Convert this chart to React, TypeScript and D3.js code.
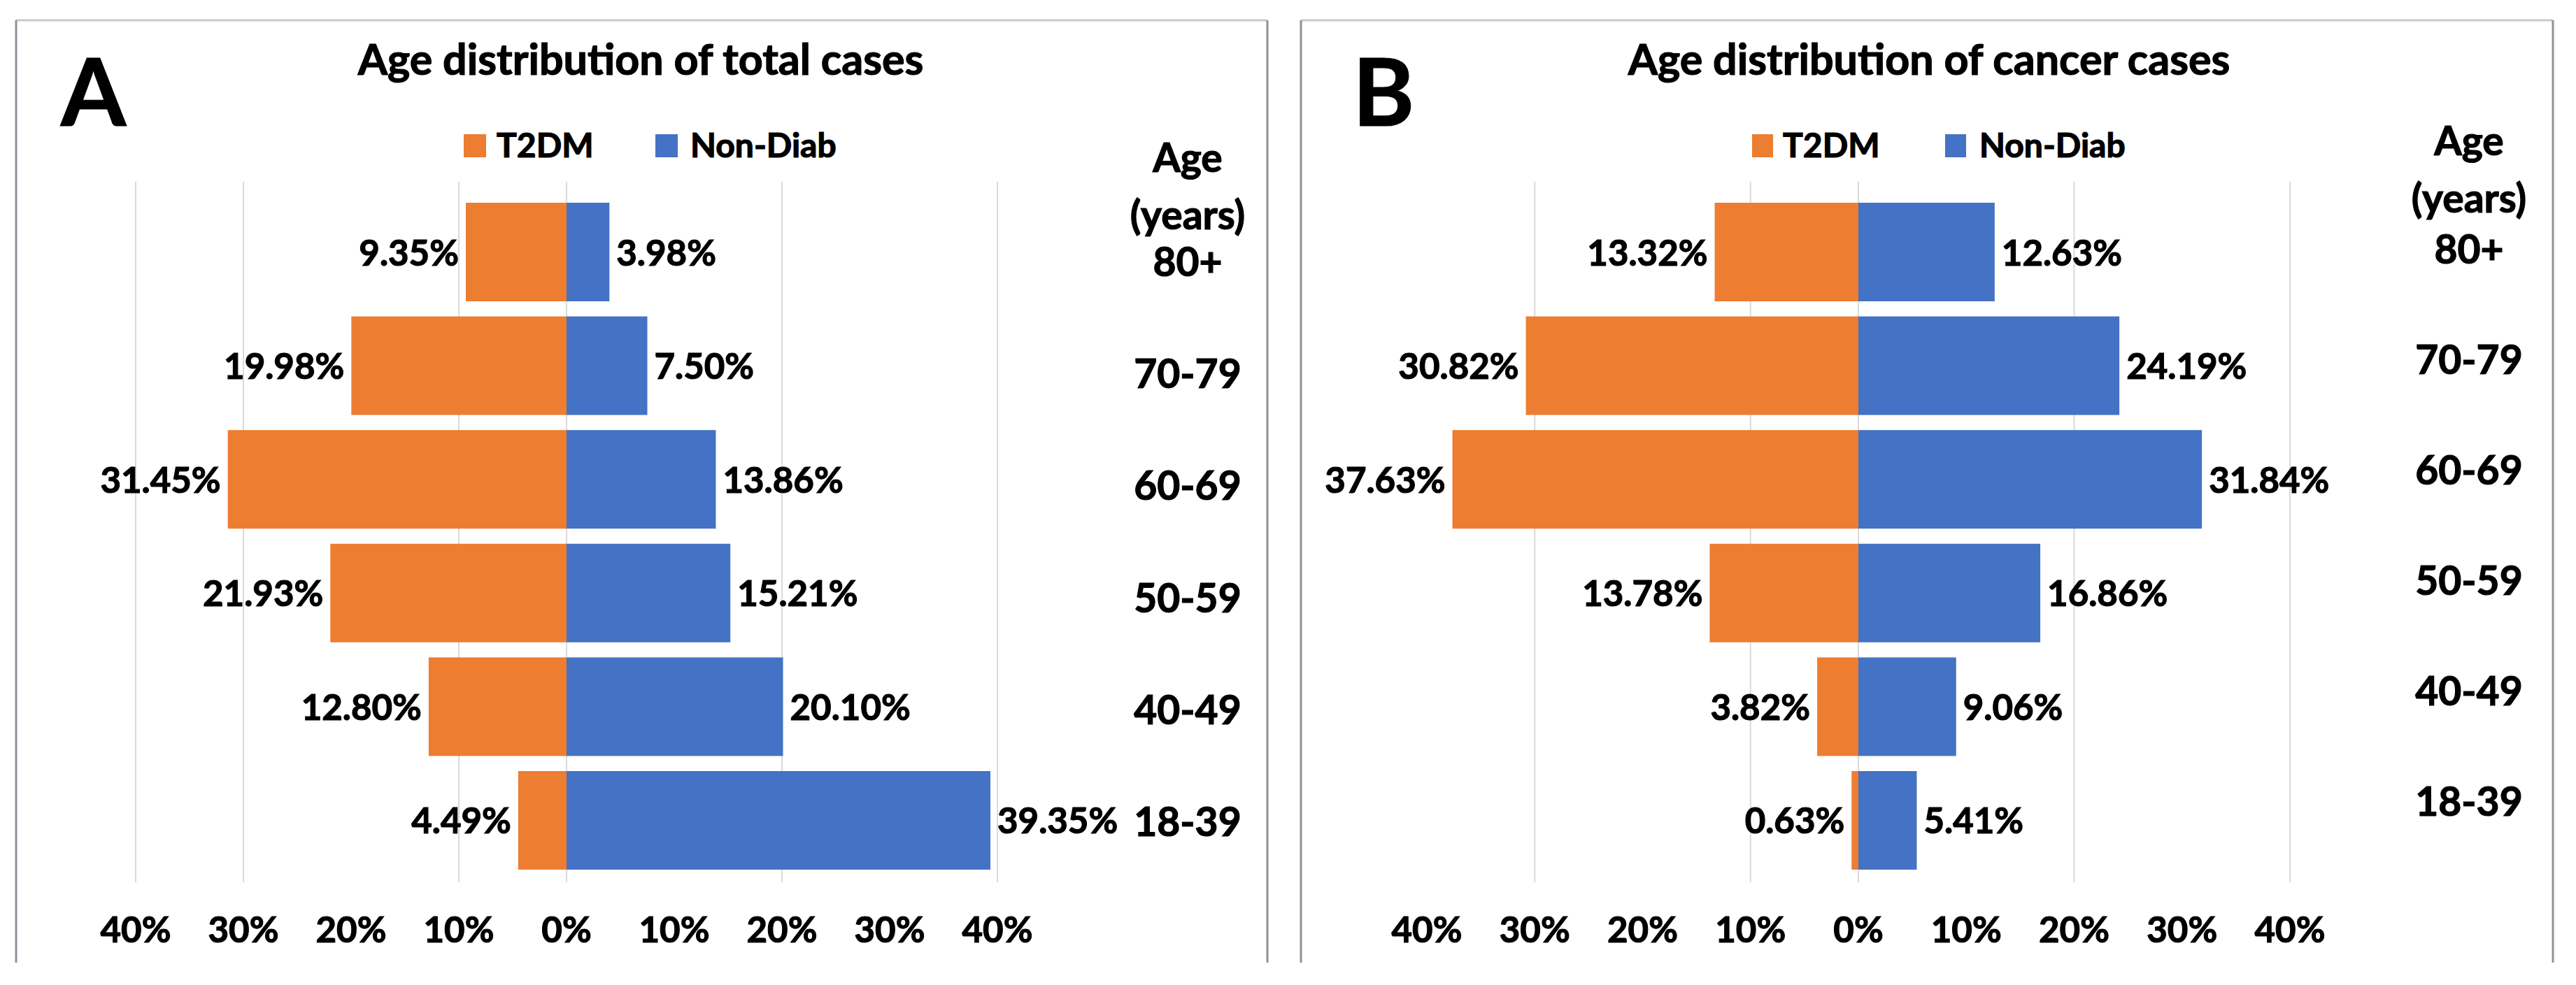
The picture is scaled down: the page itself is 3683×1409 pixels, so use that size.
import React from "react";
import * as d3 from "d3";

// Age groups, top to bottom
const ageGroups = ["80+", "70-79", "60-69", "50-59", "40-49", "18-39"];

// Panel A: total cases (%)
const totalT2DM = [9.35, 19.98, 31.45, 21.93, 12.8, 4.49];
const totalNonDiab = [3.98, 7.5, 13.86, 15.21, 20.1, 39.35];

// Panel B: cancer cases (%)
const cancerT2DM = [13.32, 30.82, 37.63, 13.78, 3.82, 0.63];
const cancerNonDiab = [12.63, 24.19, 31.84, 16.86, 9.06, 5.41];

const xTicks = [-40, -30, -20, -10, 0, 10, 20, 30, 40];
const seriesNames = ["T2DM", "Non-Diab"];
const seriesColors = ["#ED7D31", "#4472C4"];

const FONT = "Lato, 'Open Sans', sans-serif";

interface PanelLayout {
    letter: string;
    title: string;
    left: number[];
    right: number[];
    frame: [number, number, number, number];
    letterX: number;
    titleX: number;
    legend: { sq1: number; t1: number; sq2: number; t2: number; size: number };
    xRange: [number, number];
    grid: number[];
    labelX: number;
    labelRange: [number, number];
    ageY: number;
    yearsY: number;
}

const panels: PanelLayout[] = [
    {
        letter: "A",
        title: "Age distribution of total cases",
        left: totalT2DM,
        right: totalNonDiab,
        frame: [23, 1812, 29, 1377],
        letterX: 87,
        titleX: 916,
        legend: { sq1: 663, t1: 710, sq2: 937, t2: 987, size: 32 },
        xRange: [194, 1426],
        grid: [-40, -30, -10, 0, 20, 40],
        labelX: 1698,
        labelRange: [375, 1176],
        ageY: 246,
        yearsY: 328,
    },
    {
        letter: "B",
        title: "Age distribution of cancer cases",
        left: cancerT2DM,
        right: cancerNonDiab,
        frame: [1860, 3650, 29, 1377],
        letterX: 1934,
        titleX: 2758,
        legend: { sq1: 2505, t1: 2549, sq2: 2781, t2: 2830, size: 30 },
        xRange: [2040, 3274],
        grid: [-30, -10, 0, 20, 40],
        labelX: 3530,
        labelRange: [357, 1147],
        ageY: 222,
        yearsY: 304,
    },
];

function Panel({ p }: { p: PanelLayout }) {
    const x = d3.scaleLinear().domain([-40, 40]).range(p.xRange);
    const y = d3.scaleBand<string>()
        .domain(ageGroups)
        .range([268.4, 1265.6])
        .paddingInner(0.133)
        .paddingOuter(0.133);
    const yLabel = d3.scalePoint<string>().domain(ageGroups).range(p.labelRange);
    const [fl, fr, ft, fb] = p.frame;
    const bh = y.bandwidth();

    return (
        <g fontFamily={FONT} fontWeight={700} fill="#000">
            {/* frame */}
            <line x1={fl} x2={fr} y1={ft} y2={ft} stroke="#c9c9c9" strokeWidth={3} />
            <line x1={fl} x2={fl} y1={ft} y2={fb} stroke="#8b929a" strokeWidth={3} />
            <line x1={fr} x2={fr} y1={ft} y2={fb} stroke="#8b929a" strokeWidth={3} />

            {/* gridlines */}
            {p.grid.map(t => (
                <line key={t} x1={x(t)} x2={x(t)} y1={260} y2={1262} stroke="#dadada" strokeWidth={2} />
            ))}

            {/* bars */}
            {ageGroups.map((g, i) => {
                const y0 = y(g)!;
                const lv = p.left[i];
                const rv = p.right[i];
                return (
                    <g key={g}>
                        <rect x={x(-lv)} y={y0} width={x(0) - x(-lv)} height={bh} fill={seriesColors[0]} />
                        <rect x={x(0)} y={y0} width={x(rv) - x(0)} height={bh} fill={seriesColors[1]} />
                    </g>
                );
            })}

            <g stroke="#000" strokeWidth={1.2}>
                <text x={p.letterX} y={180} fontSize={134}>{p.letter}</text>
                <text x={p.titleX} y={107} fontSize={61} textAnchor="middle">{p.title}</text>

                {/* legend */}
                <rect x={p.legend.sq1} y={192} width={p.legend.size} height={33} fill={seriesColors[0]} stroke="none" />
                <text x={p.legend.t1} y={225} fontSize={48}>{seriesNames[0]}</text>
                <rect x={p.legend.sq2} y={192} width={p.legend.size} height={33} fill={seriesColors[1]} stroke="none" />
                <text x={p.legend.t2} y={225} fontSize={48}>{seriesNames[1]}</text>

                {/* value labels */}
                {ageGroups.map((g, i) => {
                    const cy = y(g)! + bh / 2;
                    const lv = p.left[i];
                    const rv = p.right[i];
                    return (
                        <g key={g}>
                            <text x={x(-lv) - 10} y={cy + 19} fontSize={51} textAnchor="end">
                                {lv.toFixed(2)}%
                            </text>
                            <text x={x(rv) + 10} y={cy + 19} fontSize={51}>
                                {rv.toFixed(2)}%
                            </text>
                        </g>
                    );
                })}

                {/* age labels */}
                <text x={p.labelX} y={p.ageY} fontSize={57} textAnchor="middle">Age</text>
                <text x={p.labelX} y={p.yearsY} fontSize={57} textAnchor="middle">(years)</text>
                {ageGroups.map(g => (
                    <text key={g} x={p.labelX} y={yLabel(g)! + 20} fontSize={57} textAnchor="middle">{g}</text>
                ))}

                {/* x tick labels */}
                {xTicks.map(t => (
                    <text key={t} x={x(t)} y={1348} fontSize={51} textAnchor="middle">
                        {Math.abs(t)}%
                    </text>
                ))}
            </g>
        </g>
    );
}

export default function App() {
    return (
        <svg
            width={3683}
            height={1409}
            style={{ position: "absolute", left: 0, top: 0, background: "#fff" }}
        >
            <rect width={3683} height={1409} fill="#fff" />
            {panels.map(p => <Panel key={p.letter} p={p} />)}
        </svg>
    );
}
